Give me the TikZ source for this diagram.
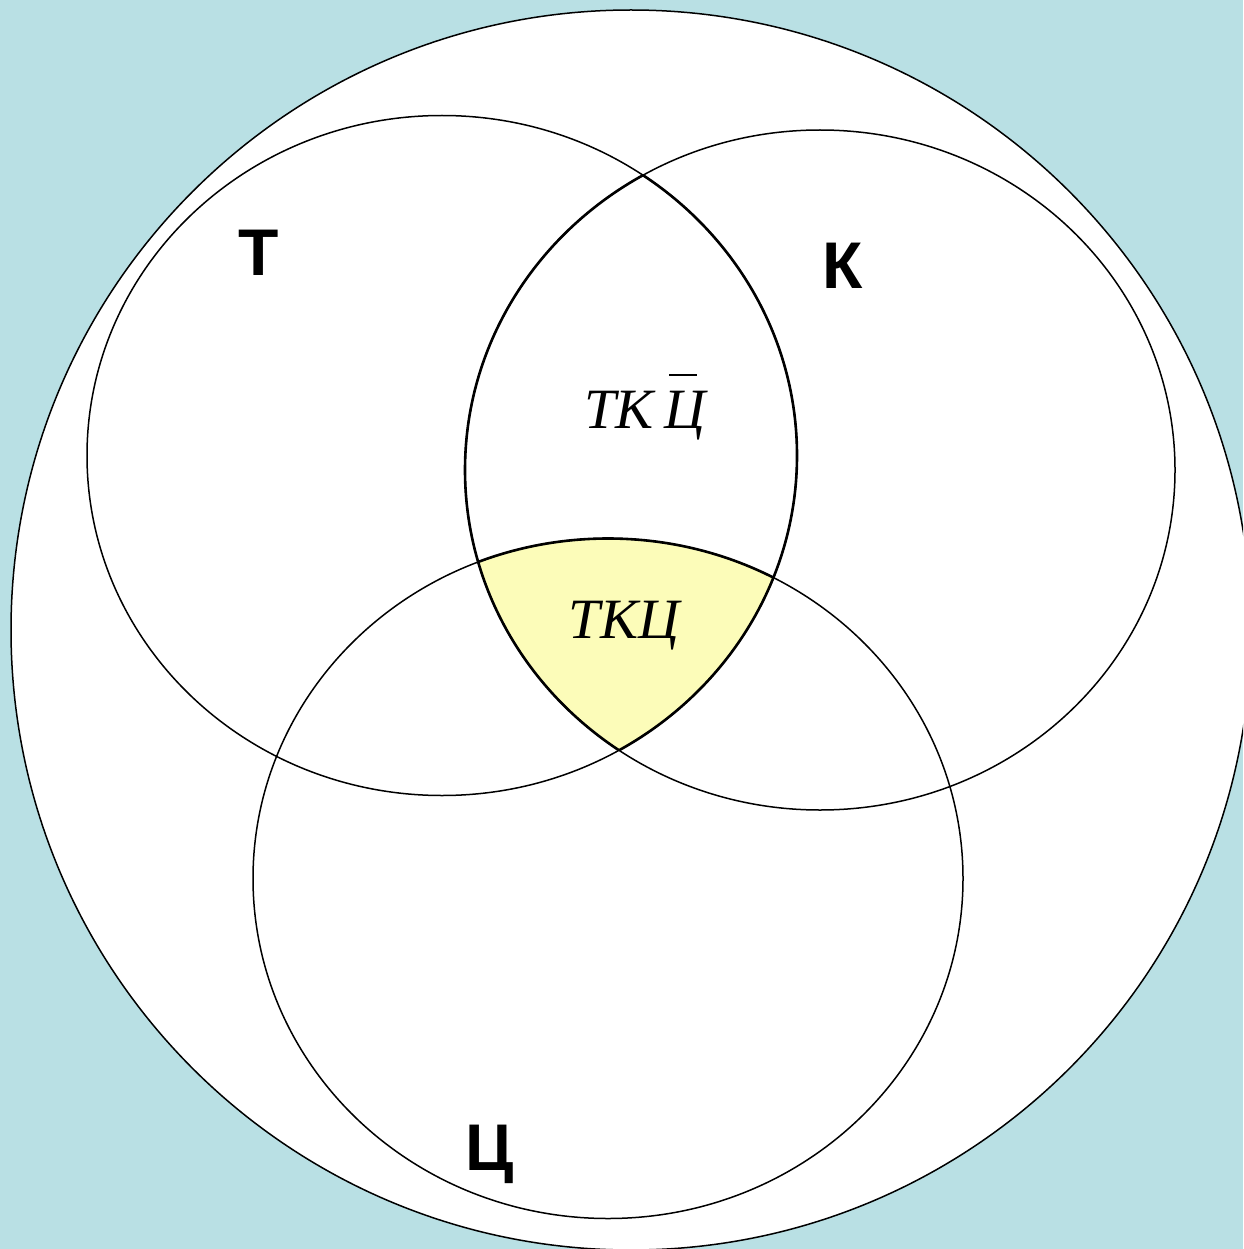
\documentclass[tikz,border=0pt]{standalone}
\usepackage{fontspec}
\newfontfamily\lblfont{Liberation Sans}
\newfontfamily\itfont{Liberation Serif}
\definecolor{bgblue}{RGB}{185,224,228}
\definecolor{paleyellow}{RGB}{252,252,185}
\tikzset{
  thinline/.style={draw=black, line width=1.5pt},
  thickline/.style={draw=black, line width=2.6pt},
  setlabel/.style={font=\lblfont\bfseries\fontsize{66}{70}\selectfont, inner sep=0pt, anchor=base},
  itlabel/.style={font=\itfont\itshape\fontsize{57}{62}\selectfont, inner sep=0pt, anchor=base west}
}
\begin{document}
\begin{tikzpicture}[x=1pt,y=-1pt]
\useasboundingbox (0,0) rectangle (1243,1249);
\fill[bgblue] (0,0) rectangle (1243,1249);
% universe
\begin{scope}
\clip (0,0) rectangle (1243,1249);
\filldraw[fill=white, thinline] (631,630) circle [radius=620];
\end{scope}
\def\Tpath{(442,455.5) ellipse [x radius=355, y radius=340]}
\def\Kpath{(820,470) ellipse [x radius=355, y radius=340]}
\def\Cpath{(608,878.5) ellipse [x radius=355, y radius=340]}
% yellow triple intersection
\begin{scope}
\clip \Tpath;
\clip \Kpath;
\fill[paleyellow] \Cpath;
\end{scope}
% circles
\draw[thinline] \Tpath;
\draw[thinline] \Kpath;
\draw[thinline] \Cpath;
% thicker lens outlines
\begin{scope}
\clip \Kpath;
\draw[thickline] \Tpath;
\end{scope}
\begin{scope}
\clip \Tpath;
\draw[thickline] \Kpath;
\end{scope}
\begin{scope}
\clip \Tpath;
\clip \Kpath;
\draw[thickline] \Cpath;
\end{scope}
% labels
\node[setlabel] (lT) at (259,275) {Т};
\node[setlabel] (lK) at (843,288) {К};
\node[setlabel] (lC) at (490,1170) {Ц};
\node[itlabel] (lTK) at (584,428) {ТК};
\node[itlabel] (lTKbar) at (664,428) {Ц};
\draw[line width=1.6pt] ([shift={(5pt,53pt)}]lTKbar.base west) -- ([shift={(33pt,53pt)}]lTKbar.base west);
\node[font=\itfont\itshape\fontsize{57}{62}\selectfont, inner sep=0pt, anchor=base] (lTKC) at (624,638) {ТКЦ};
\end{tikzpicture}
\end{document}
